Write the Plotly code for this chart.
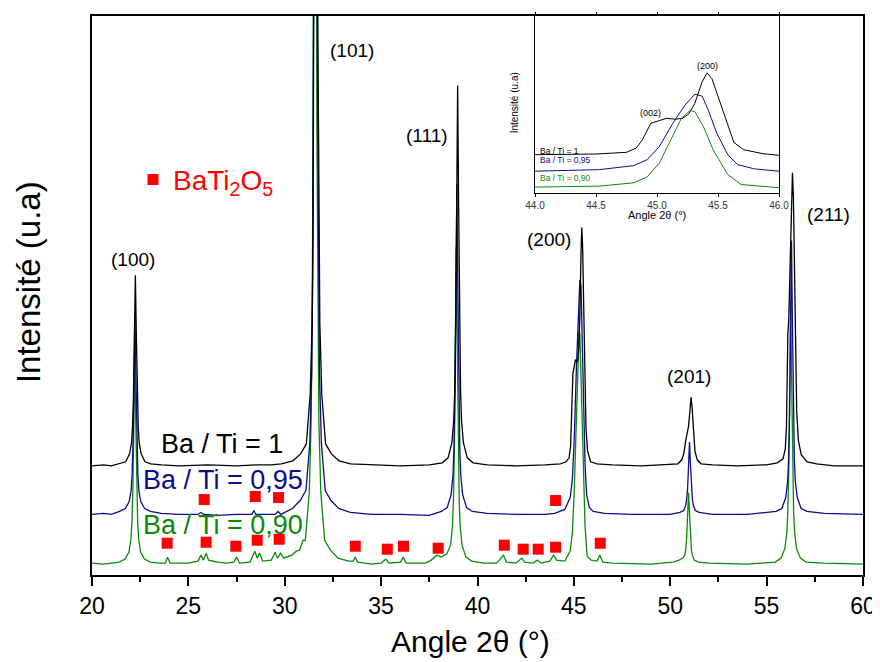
import plotly.graph_objects as go

# ---------------- main XRD patterns (intensity in arbitrary units) ----------------
black_x = [20.0, 20.6, 21.0, 21.45, 21.75, 21.95, 22.05, 22.1, 22.15, 22.2, 22.25, 22.3, 22.35, 22.4, 22.45,
           22.55, 22.75, 23.05, 23.6, 24.5, 26.0, 27.5, 28.5, 29.3, 29.82, 30.42, 30.82, 31.12, 31.32, 31.42,
           31.47, 31.52, 31.57, 31.62, 31.67, 31.72, 31.77, 31.82, 31.92, 32.12, 32.42, 32.82, 33.42, 34.5,
           36.0, 37.5, 38.17, 38.47, 38.67, 38.77, 38.82, 38.87, 38.92, 38.97, 39.02, 39.07, 39.12, 39.17,
           39.27, 39.47, 39.77, 40.5, 42.0, 43.5, 44.3, 44.6, 44.75, 44.83, 44.88, 44.95, 45.02, 45.08,
           45.15, 45.21, 45.26, 45.31, 45.37, 45.41, 45.45, 45.51, 45.58, 45.63, 45.71, 45.87, 46.2, 47.0,
           48.5, 50.0, 50.4, 50.6, 50.7, 50.8, 50.88, 50.95, 51.02, 51.08, 51.13, 51.2, 51.28, 51.4, 51.6,
           52.2, 53.5, 55.0, 55.55, 55.85, 55.97, 56.03, 56.07, 56.1, 56.15, 56.22, 56.29, 56.34, 56.39,
           56.45, 56.5, 56.56, 56.65, 56.8, 57.1, 57.6, 58.5, 60.0]
black_y = [110, 111, 110, 112, 114, 122, 133, 148, 179, 242, 302, 242, 179, 148, 133,
           122, 114, 112, 111, 110, 111, 110, 111, 111, 112, 115, 122, 132, 182, 254,
           350, 542, 938, 1310, 938, 542, 350, 254, 182, 132, 122, 115, 112, 111,
           110, 111, 113, 118, 133, 156, 187, 248, 374, 493, 374, 248, 187, 156,
           133, 118, 113, 111, 110, 111, 112, 114, 118, 130, 154, 203, 210, 217,
           214, 217, 230, 261, 324, 350, 333, 270, 193, 147, 125, 114, 112, 111,
           110, 111, 112, 116, 122, 135, 145, 150, 165, 179, 170, 145, 125, 116, 112,
           111, 110, 111, 113, 117, 127, 150, 205, 242, 258, 310, 385, 405, 380,
           300, 215, 165, 135, 121, 114, 112, 110, 110]

blue_x = [20.0, 20.6, 21.0, 21.43, 21.73, 21.93, 22.03, 22.08, 22.13, 22.18, 22.23, 22.28, 22.33, 22.38, 22.43,
          22.53, 22.73, 23.03, 23.6, 24.5, 25.5, 25.65, 25.8, 26.5, 27.5, 28.3, 28.4, 28.5, 29.5, 29.65,
          29.8, 30.4, 30.8, 31.1, 31.3, 31.4, 31.45, 31.5, 31.55, 31.6, 31.65, 31.7, 31.75, 31.8, 31.9,
          32.1, 32.4, 32.8, 33.4, 34.5, 36.0, 37.5, 38.13, 38.43, 38.63, 38.73, 38.78, 38.83, 38.88, 38.93,
          38.98, 39.03, 39.08, 39.13, 39.23, 39.43, 39.73, 40.5, 42.0, 43.5, 44.0, 44.53, 44.81, 44.92,
          45.02, 45.13, 45.23, 45.31, 45.37, 45.42, 45.49, 45.58, 45.66, 45.8, 46.0, 46.6, 48.0, 50.0,
          50.5, 50.7, 50.8, 50.85, 50.9, 50.95, 51.0, 51.05, 51.1, 51.15, 51.2, 51.3, 51.5, 52.2, 54.0,
          55.49, 55.79, 55.99, 56.09, 56.14, 56.19, 56.24, 56.29, 56.34, 56.39, 56.44, 56.49, 56.59, 56.79,
          57.09, 58.0, 60.0]
blue_y = [61, 62, 61, 64, 67, 74, 85, 101, 133, 198, 260, 198, 133, 101, 85,
          74, 67, 64, 62, 61, 61, 63, 61, 60, 61, 61, 65, 61, 61, 64,
          61, 67, 75, 85, 133, 205, 301, 493, 889, 1261, 889, 493, 301, 205, 133,
          85, 75, 67, 63, 61, 61, 60, 64, 68, 81, 101, 128, 181, 291, 394,
          291, 181, 128, 101, 81, 68, 64, 62, 61, 61, 62, 66, 78, 96,
          137, 208, 263, 297, 291, 248, 177, 111, 81, 68, 64, 62, 61, 61,
          63, 65, 70, 76, 87, 111, 134, 111, 87, 76, 70, 65, 63, 61, 61,
          64, 67, 78, 94, 116, 160, 251, 337, 251, 160, 116, 94, 78, 67,
          64, 62, 61]

green_x = [20.0, 20.6, 21.0, 21.42, 21.72, 21.92, 22.02, 22.07, 22.12, 22.17, 22.22, 22.27, 22.32, 22.37, 22.42,
           22.52, 22.72, 23.02, 23.5, 23.8, 23.92, 24.05, 25.0, 25.5, 25.65, 25.78, 25.92, 26.05, 26.5, 27.0,
           27.35, 27.5, 27.65, 28.2, 28.45, 28.57, 28.7, 28.85, 29.3, 29.5, 29.62, 29.78, 29.95, 30.2, 30.37,
           30.6, 30.77, 30.95, 31.07, 31.27, 31.37, 31.42, 31.47, 31.52, 31.57, 31.62, 31.67, 31.72, 31.77,
           31.87, 32.07, 32.37, 32.77, 33.3, 33.55, 33.66, 33.78, 34.5, 35.0, 35.25, 35.4, 36.0, 36.15, 36.3,
           37.3, 37.6, 37.9, 38.1, 38.4, 38.6, 38.7, 38.75, 38.8, 38.85, 38.9, 38.95, 39.0, 39.05, 39.1,
           39.2, 39.4, 39.7, 40.3, 41.0, 41.35, 41.5, 42.0, 42.3, 42.45, 42.9, 43.1, 43.3, 43.75, 43.95,
           44.1, 44.53, 44.81, 44.92, 45.02, 45.13, 45.2, 45.27, 45.31, 45.38, 45.46, 45.58, 45.69, 45.9,
           46.2, 46.35, 46.5, 47.0, 49.0, 50.15, 50.45, 50.65, 50.75, 50.8, 50.85, 50.9, 50.95, 51.0, 51.05,
           51.1, 51.15, 51.25, 51.45, 52.0, 54.0, 55.45, 55.75, 55.95, 56.05, 56.1, 56.15, 56.2, 56.25,
           56.3, 56.35, 56.4, 56.45, 56.55, 56.75, 57.05, 58.0, 60.0]
green_y = [12, 11, 12, 13, 16, 23, 36, 53, 86, 155, 219, 155, 86, 53, 36,
           23, 16, 13, 12, 12, 18, 12, 12, 14, 20, 15, 22, 15, 13, 12,
           13, 18, 12, 13, 24, 17, 22, 14, 15, 23, 17, 22, 17, 19, 20,
           24, 25, 35, 35, 83, 155, 251, 443, 839, 1211, 839, 443, 251, 155,
           83, 35, 25, 17, 14, 14, 18, 13, 11, 12, 16, 12, 13, 18, 12,
           12, 15, 20, 18, 21, 30, 49, 75, 126, 232, 331, 232, 126, 75, 49,
           30, 18, 14, 12, 12, 20, 13, 12, 17, 13, 12, 15, 12, 14, 20,
           15, 14, 24, 42, 85, 167, 222, 246, 243, 197, 126, 49, 19, 15,
           14, 20, 13, 12, 11, 13, 15, 17, 20, 25, 37, 61, 83, 61, 37,
           25, 20, 15, 13, 12, 11, 13, 17, 27, 43, 64, 107, 195, 277,
           195, 107, 64, 43, 27, 17, 13, 12, 11]

# BaTi2O5 impurity markers
mark_x = [25.82, 28.47, 29.68, 44.05,
          23.9, 25.92, 27.46, 28.57, 29.71, 33.66, 35.32, 36.16, 37.96, 41.39, 42.37, 43.15, 44.05, 46.37]
mark_y = [76, 79, 78, 75,
          32, 33, 29, 35, 36, 29, 26, 29, 27, 30, 26, 26, 28, 32]

# ---------------- inset: (002)/(200) region ----------------
ib_x = [44.0, 44.5, 44.75, 44.83, 44.88, 44.95, 45.02, 45.08, 45.15, 45.21, 45.26, 45.31, 45.37, 45.41, 45.45,
        45.51, 45.58, 45.63, 45.71, 45.87, 46.0]
ib_y = [38.3, 39, 40.7, 45, 53.3, 70, 72.7, 75, 74, 75, 79.3, 90, 111.7, 120.7, 115,
        93.3, 66.7, 50.7, 43.3, 39.3, 37.7]
iu_x = [44.0, 44.53, 44.81, 44.92, 45.02, 45.13, 45.23, 45.31, 45.37, 45.42, 45.49, 45.58, 45.66, 45.8, 46.0]
iu_y = [21.7, 23.3, 27.3, 33.3, 46.7, 70, 88.3, 99.3, 97.3, 83.3, 60, 38.3, 28.3, 24, 21.7]
ig_x = [44.0, 44.53, 44.81, 44.92, 45.02, 45.13, 45.2, 45.27, 45.31, 45.38, 45.46, 45.58, 45.69, 46.0]
ig_y = [5.7, 6.7, 10, 16, 30, 56.7, 75, 82.7, 81.7, 66.7, 43.3, 18.3, 8.3, 5]

BLACK = "#000000"
BLUE = "#0c0c8c"
GREEN = "#0a8a0a"
RED = "#ff0000"
FONT = "Liberation Sans, Arial, sans-serif"

fig = go.Figure()
fig.add_trace(go.Scatter(x=green_x, y=green_y, mode="lines", line=dict(color=GREEN, width=1.3), showlegend=False))
fig.add_trace(go.Scatter(x=blue_x, y=blue_y, mode="lines", line=dict(color=BLUE, width=1.3), showlegend=False))
fig.add_trace(go.Scatter(x=black_x, y=black_y, mode="lines", line=dict(color=BLACK, width=1.3), showlegend=False))
fig.add_trace(go.Scatter(x=mark_x, y=mark_y, mode="markers", name="BaTi<sub>2</sub>O<sub>5</sub>",
                         marker=dict(symbol="square", size=11, color=RED), showlegend=True))

fig.add_trace(go.Scatter(x=ib_x, y=ib_y, mode="lines", line=dict(color=BLACK, width=1), xaxis="x2", yaxis="y2", showlegend=False))
fig.add_trace(go.Scatter(x=iu_x, y=iu_y, mode="lines", line=dict(color=BLUE, width=1), xaxis="x2", yaxis="y2", showlegend=False))
fig.add_trace(go.Scatter(x=ig_x, y=ig_y, mode="lines", line=dict(color=GREEN, width=1), xaxis="x2", yaxis="y2", showlegend=False))

# page pixel geometry of the plot area (page has an 8px body margin)
OFF = 8
W, H = 880 - OFF, 662 - OFF
L, R, T, B = 92, 863, 12, 575


def px(x):
    return (x - L) / (R - L)


def py(y):
    return (B - y) / (B - T)


ann = []


def text(s, x, y, size, color=BLACK, xanchor="center", angle=0):
    ann.append(dict(text=s, x=px(x), y=py(y), xref="paper", yref="paper", showarrow=False,
                    xanchor=xanchor, yanchor="middle", textangle=angle,
                    font=dict(family=FONT, size=size, color=color)))


# peak labels
text("(100)", 133, 257, 19)
text("(101)", 352, 47, 19)
text("(111)", 427, 132, 19)
text("(200)", 549, 237, 19)
text("(201)", 689, 375, 19)
text("(211)", 828, 212, 19)
# sample labels
text("Ba / Ti = 1", 159, 443, 27, BLACK, "left")
text("Ba / Ti = 0,95", 141, 479, 27, BLUE, "left")
text("Ba / Ti = 0,90", 141, 525, 27, GREEN, "left")
# axis titles
text("Angle 2θ (°)", 470, 642, 30)
text("Intensité (u.a)", 28, 280, 33, angle=-90)
# inset texts
text("(200)", 707, 62, 9)
text("(002)", 650, 110, 9)
text("Ba / Ti = 1", 538, 148, 8.5, BLACK, "left")
text("Ba / Ti = 0,95", 538, 157, 8.5, BLUE, "left")
text("Ba / Ti = 0,90", 538, 175, 8.5, GREEN, "left")
text("Angle 2θ (°)", 657, 212, 11)
text("Intensité (u.a)", 514, 100, 10, angle=-90)

fig.update_layout(
    width=W, height=H,
    margin=dict(l=L - OFF, r=W - (R - OFF), t=T - OFF, b=H - (B - OFF)),
    paper_bgcolor="white", plot_bgcolor="white",
    font=dict(family=FONT, color=BLACK),
    annotations=ann,
    legend=dict(x=px(133), y=py(177), xanchor="left", yanchor="middle", bgcolor="rgba(0,0,0,0)",
                font=dict(family=FONT, size=28, color=RED), itemwidth=30),
    xaxis=dict(range=[20, 60], dtick=5, ticks="outside", ticklen=9, tickwidth=1.5, tickcolor=BLACK,
               showline=True, linecolor=BLACK, linewidth=2, mirror=True, showgrid=False, zeroline=False,
               tickfont=dict(family=FONT, size=23, color=BLACK),
               minor=dict(dtick=2.5, ticks="outside", ticklen=5, tickcolor=BLACK)),
    yaxis=dict(range=[0, 563], showticklabels=False, ticks="", showline=True, linecolor=BLACK, linewidth=2,
               mirror=True, showgrid=False, zeroline=False),
    xaxis2=dict(domain=[px(535), px(779)], anchor="y2", range=[44, 46], dtick=0.5, tickformat=".1f",
                ticks="outside", ticklen=3, tickcolor=BLACK, showline=True, linecolor=BLACK, linewidth=1,
                mirror="ticks", showgrid=False, zeroline=False,
                tickfont=dict(family=FONT, size=10, color="#333333")),
    yaxis2=dict(domain=[py(190), py(12)], anchor="x2", range=[0, 178], showticklabels=False, ticks="",
                showline=True, linecolor=BLACK, linewidth=1, mirror=True, showgrid=False, zeroline=False),
)

fig.write_html("out.html")
